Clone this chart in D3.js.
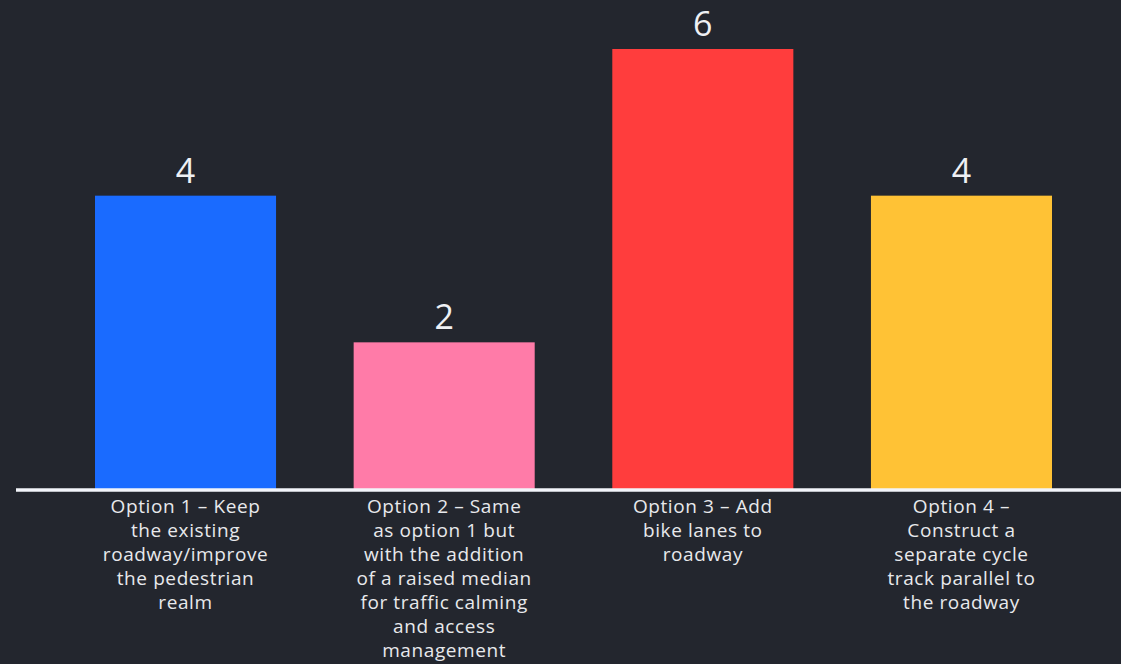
<!DOCTYPE html>
<html><head><meta charset="utf-8">
<script src="https://cdn.jsdelivr.net/npm/d3@7"></script>
<style>html,body{margin:0;padding:0;background:#23262e;}svg{display:block;}</style>
</head><body>
<svg id="chart" width="1121" height="664"></svg>
<script>
const categories = ["Option 1", "Option 2", "Option 3", "Option 4"];
const values = [4, 2, 6, 4];
const colors = ["#1a6bff", "#ff7ba8", "#ff3d3d", "#ffc235"];
const labelLines = [
  ["Option 1 – Keep", "the existing", "roadway/improve", "the pedestrian", "realm"],
  ["Option 2 – Same", "as option 1 but", "with the addition", "of a raised median", "for traffic calming", "and access", "management"],
  ["Option 3 – Add", "bike lanes to", "roadway"],
  ["Option 4 –", "Construct a", "separate cycle", "track parallel to", "the roadway"]
];

const svg = d3.select("#chart");
const W = 1121, H = 664;
const baseY = 489;

const x = d3.scaleBand().domain(categories).range([56.2, 1090.8]).paddingInner(0.3).paddingOuter(0.15);
const y = d3.scaleLinear().domain([0, 6]).range([baseY, 49]);

svg.append("rect").attr("width", W).attr("height", H).attr("fill", "#23262e");

svg.selectAll("rect.bar").data(values).join("rect")
  .attr("class", "bar")
  .attr("x", (d, i) => x(categories[i]))
  .attr("width", x.bandwidth())
  .attr("y", d => y(d))
  .attr("height", d => y(0) - y(d))
  .attr("fill", (d, i) => colors[i]);

svg.selectAll("text.val").data(values).join("text")
  .attr("class", "val")
  .attr("x", (d, i) => x(categories[i]) + x.bandwidth() / 2)
  .attr("y", d => y(d) - 13)
  .attr("text-anchor", "middle")
  .attr("fill", "#eef0f4")
  .attr("font-family", "'Open Sans', 'Noto Sans', sans-serif")
  .attr("font-size", 34)
  .text(d => d);

svg.append("line")
  .attr("x1", 16).attr("x2", W)
  .attr("y1", baseY + 1).attr("y2", baseY + 1)
  .attr("stroke", "#f2f4fa").attr("stroke-width", 3.5);

const lab = svg.selectAll("text.cat").data(categories).join("text")
  .attr("class", "cat")
  .attr("text-anchor", "middle")
  .attr("fill", "#e8e9ec")
  .attr("font-family", "'Open Sans', 'Noto Sans', sans-serif")
  .attr("font-size", 19)
  .attr("letter-spacing", 0.6);
lab.each(function(c, i) {
  const t = d3.select(this);
  labelLines[i].forEach((ln, j) => {
    t.append("tspan")
      .attr("x", x(c) + x.bandwidth() / 2)
      .attr("y", 513 + j * 24)
      .text(ln);
  });
});
</script>
</body></html>
